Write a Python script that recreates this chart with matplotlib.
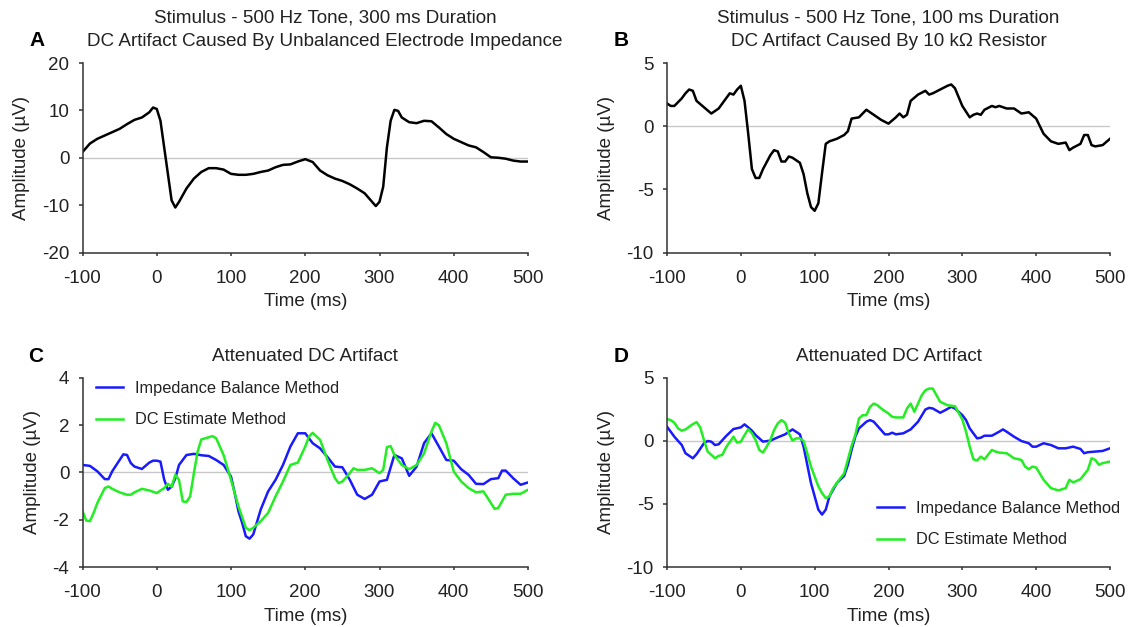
import matplotlib
matplotlib.use("Agg")
import matplotlib.pyplot as plt
import numpy as np

plt.rcParams['font.family'] = ['Liberation Sans', 'DejaVu Sans']
plt.rcParams['axes.unicode_minus'] = False

# ---------------- data ----------------
a_t = [-100,-90,-80,-70,-60,-50,-40,-30,-20,-10,-5,0,5,10,15,20,25,30,40,50,60,70,80,90,100,110,120,130,140,150,160,170,180,190,200,210,220,230,240,250,260,270,280,290,295,300,305,310,315,320,325,330,340,350,360,370,380,390,400,410,420,430,440,450,460,470,480,490,500]
a_v = [1.2,3,4,4.7,5.4,6.1,7.1,8,8.5,9.6,10.6,10.3,7.8,2.2,-3.4,-9,-10.5,-9.3,-6.5,-4.4,-3,-2.2,-2.2,-2.5,-3.4,-3.6,-3.6,-3.4,-3,-2.7,-2,-1.5,-1.4,-0.8,-0.3,-0.9,-2.7,-3.7,-4.4,-4.9,-5.6,-6.5,-7.5,-9.3,-10.2,-9.3,-6.1,2.2,7.8,10.1,9.9,8.5,7.5,7.3,7.8,7.7,6.4,5,4,3.3,2.6,2.2,1.2,0.1,0,-0.2,-0.6,-0.8,-0.8]

b_t = [-100,-95,-90,-80,-75,-70,-65,-60,-50,-40,-30,-20,-15,-10,-5,0,5,10,15,20,25,30,40,45,50,55,60,65,70,80,85,90,95,100,105,110,115,120,130,140,145,150,160,165,170,180,190,200,210,215,220,225,230,240,250,255,260,270,280,285,290,300,310,315,320,325,330,340,345,350,360,370,380,390,400,410,420,430,440,445,450,460,465,470,475,480,490,500]
b_v = [1.8,1.6,1.6,2.2,2.6,2.9,2.8,2.0,1.5,1.0,1.4,2.2,2.6,2.5,2.9,3.2,2.0,-0.6,-3.4,-4.1,-4.1,-3.4,-2.3,-1.9,-2.0,-2.8,-2.8,-2.4,-2.5,-2.9,-3.8,-5.3,-6.4,-6.7,-6.1,-3.7,-1.4,-1.2,-1.0,-0.7,-0.4,0.6,0.7,1.0,1.3,0.9,0.5,0.2,0.7,1.0,0.7,0.9,2.0,2.5,2.8,2.5,2.6,2.9,3.2,3.3,3.0,1.6,0.7,0.9,1.0,0.9,1.3,1.6,1.5,1.6,1.4,1.4,1.0,1.1,0.6,-0.6,-1.2,-1.4,-1.3,-1.9,-1.7,-1.4,-0.7,-0.7,-1.5,-1.6,-1.5,-1.0]

c_t_imp = [-100,-90,-80,-70,-65,-60,-50,-45,-40,-35,-30,-20,-10,-5,0,5,10,15,20,25,30,40,50,60,70,80,90,100,105,110,115,120,125,130,140,150,160,170,180,190,200,205,210,220,230,240,250,260,270,280,290,300,310,320,330,340,350,360,370,380,390,400,410,420,430,440,450,460,465,470,480,490,500]
c_v_imp = [0.32,0.28,0.05,-0.28,-0.28,0.05,0.53,0.77,0.74,0.4,0.25,0.15,0.42,0.5,0.5,0.46,-0.3,-0.73,-0.6,-0.25,0.32,0.74,0.79,0.73,0.7,0.53,0.32,-0.17,-0.87,-1.64,-2.13,-2.7,-2.8,-2.62,-1.57,-0.8,-0.31,0.32,1.1,1.66,1.66,1.45,1.24,1.02,0.65,0.25,0.22,-0.31,-0.94,-1.12,-0.94,-0.38,-0.31,0.74,0.6,-0.14,0.25,1.24,1.66,1.1,0.53,0.5,0.14,-0.1,-0.48,-0.49,-0.28,-0.24,0.08,0.08,-0.24,-0.52,-0.42]
c_t_dc = [-100,-95,-90,-85,-80,-70,-65,-60,-50,-40,-35,-30,-20,-10,0,10,15,20,25,30,35,40,45,50,55,60,70,75,80,90,100,110,120,125,130,140,150,160,170,180,190,200,205,210,220,230,240,245,250,260,265,270,280,290,300,305,310,315,320,330,340,350,360,370,375,380,390,400,410,420,430,440,450,455,460,470,480,490,500]
c_v_dc = [-1.64,-2.03,-2.06,-1.71,-1.29,-0.66,-0.59,-0.69,-0.84,-0.94,-0.94,-0.84,-0.69,-0.76,-0.87,-0.66,-0.48,-0.6,-0.1,-0.31,-1.22,-1.25,-1.01,-0.03,0.88,1.4,1.49,1.54,1.45,0.74,-0.31,-1.43,-2.34,-2.44,-2.34,-2.06,-1.71,-1.01,-0.38,0.32,0.42,1.1,1.52,1.68,1.38,0.53,-0.24,-0.45,-0.38,-0.03,0.18,0.11,0.11,0.18,-0.03,0.11,1.07,1.12,0.74,0.32,0.14,0.32,0.81,1.73,2.1,2.0,1.24,0.04,-0.38,-0.66,-0.84,-0.8,-1.29,-1.54,-1.5,-0.94,-0.9,-0.9,-0.73]

d_t_imp = [-100,-95,-90,-80,-75,-65,-60,-50,-45,-40,-35,-30,-20,-10,0,5,10,15,20,30,40,50,60,70,80,85,90,95,100,105,110,115,120,130,140,145,150,155,160,170,175,180,190,195,200,205,210,220,230,240,250,255,260,270,275,285,290,300,305,310,320,325,330,340,350,355,360,370,380,390,395,400,410,420,430,440,450,460,465,470,480,490,500]
d_v_imp = [1.13,0.74,0.34,-0.32,-0.97,-1.37,-1.05,-0.18,0,-0.05,-0.32,-0.26,0.39,0.95,1.08,1.32,1.08,0.82,0.47,-0.05,0.03,0.29,0.53,0.92,0.53,-0.45,-1.89,-3.34,-4.39,-5.45,-5.84,-5.45,-4.39,-3.34,-2.76,-1.89,-0.71,0.34,1.0,1.53,1.66,1.53,0.87,0.53,0.53,0.66,0.53,0.61,0.92,1.53,2.5,2.63,2.58,2.24,2.39,2.71,2.58,2.05,1.66,1.0,0.21,0.26,0.42,0.42,0.74,0.92,0.74,0.34,0,-0.18,-0.45,-0.45,-0.18,-0.32,-0.58,-0.58,-0.45,-0.63,-0.97,-0.89,-0.84,-0.79,-0.58]
d_t_dc = [-100,-95,-90,-85,-80,-75,-70,-65,-60,-55,-50,-45,-40,-35,-30,-25,-20,-10,-5,0,5,10,15,20,25,30,35,40,45,50,55,60,65,70,75,80,85,90,95,100,105,110,115,120,125,130,140,150,155,160,165,170,175,180,185,190,200,205,210,220,225,230,235,240,245,250,255,260,265,270,280,290,300,305,310,315,320,325,330,340,345,350,360,370,380,385,390,395,400,410,420,430,440,445,450,460,470,475,480,485,490,500]
d_v_dc = [1.74,1.66,1.45,1.0,0.82,0.92,1.13,1.34,1.5,1.08,0.08,-0.84,-1.1,-1.37,-1.18,-1.1,-0.5,0.34,-0.13,-0.05,0.47,0.92,0.61,0.08,-0.71,-0.92,-0.45,0.08,0.87,1.39,1.66,1.45,0.61,0.03,0.21,0.21,0,-0.97,-2.03,-2.82,-3.6,-4.13,-4.53,-4.39,-3.74,-3.34,-2.55,-0.39,0.47,1.79,2.05,2.05,2.71,2.97,2.84,2.58,2.18,1.92,1.87,1.87,2.58,2.97,2.32,2.97,3.63,4.03,4.16,4.16,3.63,3.11,2.84,2.76,1.71,0.74,-0.45,-1.45,-1.55,-1.24,-1.45,-0.71,-0.84,-0.92,-0.97,-1.37,-1.5,-2.03,-2.24,-2.03,-2.1,-3.08,-3.74,-3.92,-3.74,-3.08,-3.29,-3.03,-2.29,-1.37,-1.5,-1.89,-1.76,-1.63]

x_ticks = [-100, 0, 100, 200, 300, 400, 500]
a_yticks = [-20, -10, 0, 10, 20]
b_yticks = [-10, -5, 0, 5]
c_yticks = [-4, -2, 0, 2, 4]
d_yticks = [-10, -5, 0, 5]

title_a = "Stimulus - 500 Hz Tone, 300 ms Duration\nDC Artifact Caused By Unbalanced Electrode Impedance"
title_b = "Stimulus - 500 Hz Tone, 100 ms Duration\nDC Artifact Caused By 10 k\u03a9 Resistor"
title_c = "Attenuated DC Artifact"
title_d = "Attenuated DC Artifact"
leg_labels = ["Impedance Balance Method", "DC Estimate Method"]

BLUE = "#1a1aff"
GREEN = "#22ee22"
TXT = "#222222"
FS = 13.5
FS_TITLE = 13.6
FS_LEG = 11.75

W, H = 1133, 627
fig = plt.figure(figsize=(W/100, H/100), dpi=100)

def make_ax(l, r, t, b):
    return fig.add_axes([l/W, 1-b/H, (r-l)/W, (b-t)/H])

axA = make_ax(82.5, 528, 63, 252.5)
axB = make_ax(667, 1110, 63, 252.5)
axC = make_ax(82.5, 528, 378, 567)
axD = make_ax(667, 1110, 378, 567)

def style(ax, yticks, title, title_x=0.5):
    ax.set_xlim(-100, 500)
    ax.set_ylim(yticks[0], yticks[-1])
    ax.set_xticks(x_ticks)
    ax.set_yticks(yticks)
    ax.axhline(0, color="#c8c8c8", lw=1.0, zorder=1)
    for s in ["top", "right"]:
        ax.spines[s].set_visible(False)
    for s in ["left", "bottom"]:
        ax.spines[s].set_linewidth(1.1)
        ax.spines[s].set_color("#333333")
    ax.tick_params(axis="x", direction="out", length=2.5, width=1.1, color="#333333",
                   labelsize=FS, labelcolor=TXT, pad=10)
    ax.tick_params(axis="y", direction="out", length=3, width=1.1, color="#333333",
                   labelsize=FS, labelcolor=TXT, pad=6.5)
    ax.set_xlabel("Time (ms)", fontsize=FS, labelpad=4.5, color=TXT)
    ax.set_ylabel("Amplitude (\u00b5V)", fontsize=FS, labelpad=8.5, color=TXT)
    ax.set_title(title, fontsize=FS_TITLE, pad=12, linespacing=1.5, color=TXT, x=title_x)

style(axA, a_yticks, title_a, title_x=(325 - 82.5) / (528 - 82.5))
style(axB, b_yticks, title_b)
style(axC, c_yticks, title_c)
style(axD, d_yticks, title_d)

axA.plot(a_t, a_v, color="black", lw=1.8)
axB.plot(b_t, b_v, color="black", lw=1.8)

axC.plot(c_t_imp, c_v_imp, color=BLUE, lw=1.8, label=leg_labels[0])
axC.plot(c_t_dc, c_v_dc, color=GREEN, lw=1.8, label=leg_labels[1])
axD.plot(d_t_imp, d_v_imp, color=BLUE, lw=1.8, label=leg_labels[0])
axD.plot(d_t_dc, d_v_dc, color=GREEN, lw=1.8, label=leg_labels[1])

leg_kw = dict(frameon=False, fontsize=FS_LEG, handlelength=1.65, handletextpad=0.72,
              borderaxespad=0.0, borderpad=0.0, labelspacing=1.0, labelcolor=TXT,
              loc="upper left", bbox_transform=fig.transFigure)
axC.legend(bbox_to_anchor=(96/W, 1 - 381/H), **leg_kw)
axD.legend(bbox_to_anchor=(877/W, 1 - 501/H), **leg_kw)

for lab, x, y in [("A", 37, 40), ("B", 621, 40), ("C", 36, 356), ("D", 621, 356)]:
    fig.text(x/W, 1-y/H, lab, fontsize=15, fontweight="bold", ha="center", va="center", color="black")

fig.savefig("out.png", dpi=100)
